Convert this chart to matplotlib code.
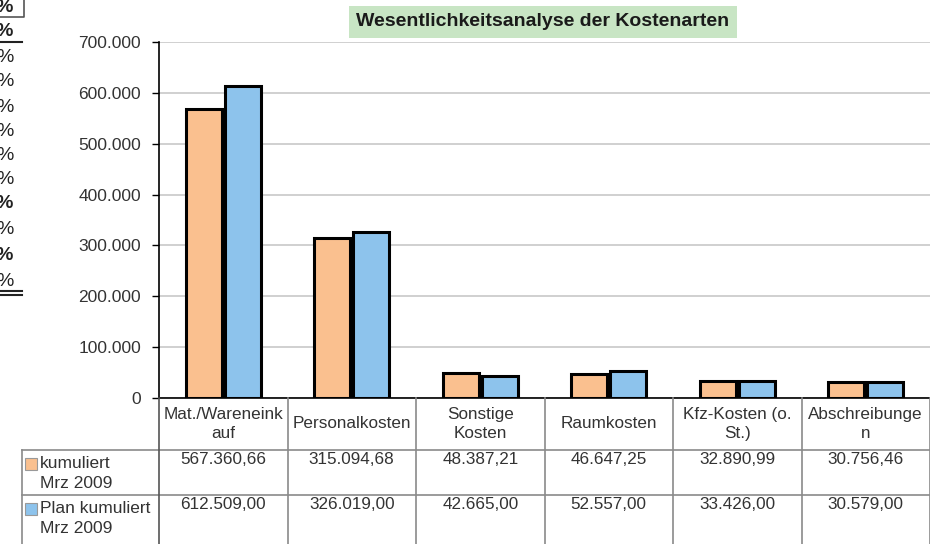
import matplotlib.pyplot as plt

plt.rcParams["font.family"] = ["Liberation Sans", "DejaVu Sans"]

categories = ["Mat./Wareneink\nauf", "Personalkosten", "Sonstige\nKosten",
              "Raumkosten", "Kfz-Kosten (o.\nSt.)", "Abschreibunge\nn"]
kumuliert = [567360.66, 315094.68, 48387.21, 46647.25, 32890.99, 30756.46]
plan = [612509.00, 326019.00, 42665.00, 52557.00, 33426.00, 30579.00]
series_labels = ["kumuliert\nMrz 2009", "Plan kumuliert\nMrz 2009"]
title = "Wesentlichkeitsanalyse der Kostenarten"

c_ist = "#FAC08F"
c_plan = "#8DC3EC"
txt = "#333333"
W, H = 930, 544


def de(v, dec=2):
    s = f"{v:,.{dec}f}"
    return s.replace(",", "X").replace(".", ",").replace("X", ".")


fig = plt.figure(figsize=(W / 100, H / 100), dpi=100)

# main chart area
ax = fig.add_axes([159 / W, 1 - 398 / H, (W - 159) / W, (398 - 42) / H])
x = list(range(len(categories)))
ax.bar([i - 0.15 for i in x], kumuliert, width=0.28, color=c_ist,
       edgecolor="black", linewidth=2.2, zorder=3)
ax.bar([i + 0.15 for i in x], plan, width=0.28, color=c_plan,
       edgecolor="black", linewidth=2.2, zorder=3)
ax.set_xlim(-0.5, len(categories) - 0.5)
ax.set_ylim(0, 700000)
ax.set_yticks(range(0, 700001, 100000))
ax.set_yticklabels([de(t, 0) for t in range(0, 700001, 100000)])
ax.tick_params(axis="y", direction="out", length=5, width=1, colors="black",
               labelcolor=txt, labelsize=12.5, pad=8)
ax.set_xticks([])
ax.grid(axis="y", color="#c8c8c8", linewidth=1.2, zorder=0)
for s in ["top", "right"]:
    ax.spines[s].set_visible(False)
ax.spines["left"].set_linewidth(1.2)
ax.spines["bottom"].set_linewidth(1.2)

# overlay in pixel coordinates for table, title and the cut-off sheet on the left
ov = fig.add_axes([0, 0, 1, 1])
ov.set_xlim(0, W)
ov.set_ylim(H, 0)
ov.axis("off")

ov.text(543, 22, title, ha="center", va="center", fontsize=14, fontweight="bold",
        color="#1a1a1a",
        bbox=dict(facecolor="#c8e5c4", edgecolor="none", boxstyle="square,pad=0.38"))

# data table below the chart
col_w = (W - 159) / len(categories)
edges = [159 + col_w * k for k in range(len(categories) + 1)]
lc = "#8a8a8a"
ov.plot([22, W], [450, 450], color=lc, lw=1.2)
ov.plot([22, W], [495, 495], color=lc, lw=1.2)
ov.plot([22, 22], [450, H], color=lc, lw=1.2)
for e in edges[1:]:
    ov.plot([e, e], [398, H], color=lc, lw=1.2)
ov.plot([159, 159], [398, H], color="#555555", lw=1.2)

for i, cat in enumerate(categories):
    cx = (edges[i] + edges[i + 1]) / 2
    ov.text(cx, 424, cat, ha="center", va="center", fontsize=12.3, color=txt,
            linespacing=1.3)
    ov.text(cx, 452, de(kumuliert[i]), ha="center", va="top", fontsize=12.3, color=txt)
    ov.text(cx, 497, de(plan[i]), ha="center", va="top", fontsize=12.3, color=txt)

for j, (lab, col) in enumerate(zip(series_labels, [c_ist, c_plan])):
    y0 = 456 + 45 * j
    ov.add_patch(plt.Rectangle((25, y0 + 2), 12, 12, facecolor=col,
                               edgecolor="#999999", lw=0.8))
    ov.text(40, y0, lab, ha="left", va="top", fontsize=12.5, color=txt,
            linespacing=1.4)

# fragment of the neighbouring sheet column
pct_y = [8, 32, 57, 82, 107, 132, 155, 179, 204, 230, 256, 281]
for k, py in enumerate(pct_y):
    ov.text(-4, py, "%", ha="left", va="center", fontsize=14, color="#222222",
            fontweight="bold" if k in (0, 1, 8, 10) else "normal")
ov.plot([0, 24, 24], [17, 17, 0], color="#555555", lw=1.2)
ov.plot([0, 22], [42, 42], color="#222222", lw=1.5)
ov.plot([0, 22], [291, 291], color="#222222", lw=1.5)
ov.plot([0, 22], [295, 295], color="#222222", lw=1.5)

fig.savefig("out.png", dpi=100)
